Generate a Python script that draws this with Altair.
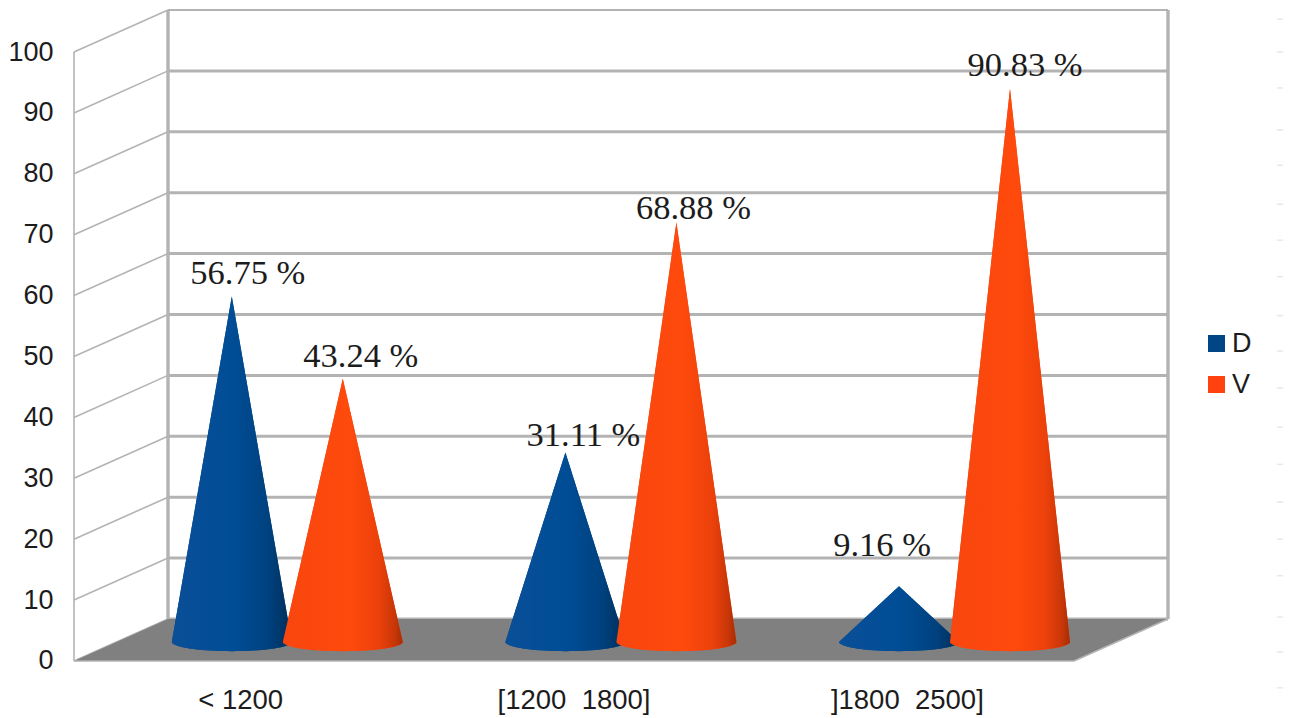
import math
import altair as alt
import pandas as pd

# Chart content
categories = ["< 1200", "[1200 \u00a01800]", "]1800 \u00a02500]"]
series_names = ["D", "V"]
d_values = [56.75, 31.11, 9.16]
v_values = [43.24, 68.88, 90.83]
axis_ticks = [0, 10, 20, 30, 40, 50, 60, 70, 80, 90, 100]
margin_marks = [105.4, 100, 94.1, 87.2, 81.4, 75, 69.1, 63.1, 56.7, 50.9, 44.8,
                38.4, 32.3, 26.1, 20, 14, 7.2, 1.5, -4.4]

# Projection of the box: floor width, oblique depth shift, cone geometry
FRONT_X = 74
BOX_W = 1000
DEPTH_X = 94
DEPTH_Y = 6.9
CONE_LIFT = 3.12
CONE_RADIUS = 60
CONE_RY = 1.5
GROUP_W = 333.6
CONE_CENTER_0 = 287.3
CONE_GAP = 55.5

x_scale = alt.Scale(domain=[70, 1290], nice=False, zero=False)
y_scale = alt.Scale(domain=[-9.36, 108.54], nice=False, zero=False)
colors = {"D": "#004586", "V": "#ff420e"}

# Every layer repeats the same axis definition so that the merged y axis stays on
y_axis = alt.Axis(values=axis_ticks, domain=False, ticks=False, grid=False,
                  labelFont="Liberation Sans", labelFontSize=27,
                  labelColor="#1c1c1c", labelPadding=17)


def xq(field):
    return alt.X(field, type="quantitative", scale=x_scale, axis=None, title=None)


def yq(field):
    return alt.Y(field, type="quantitative", scale=y_scale, title=None, axis=y_axis)


# Walls and floor
left_wall = pd.DataFrame({
    "x": [FRONT_X] * len(axis_ticks),
    "x2": [FRONT_X + DEPTH_X] * len(axis_ticks),
    "y": axis_ticks,
    "y2": [t + DEPTH_Y for t in axis_ticks],
})
back_lines = pd.DataFrame({
    "x": [FRONT_X + DEPTH_X] * len(axis_ticks),
    "x2": [FRONT_X + DEPTH_X + BOX_W] * len(axis_ticks),
    "y": [t + DEPTH_Y for t in axis_ticks],
    "w": [2 if t == 100 else 3 for t in axis_ticks],
})
floor = pd.DataFrame({
    "xl": [FRONT_X, FRONT_X + DEPTH_X],
    "xr": [FRONT_X + BOX_W, FRONT_X + DEPTH_X + BOX_W],
    "y": [0, DEPTH_Y],
})
verticals = pd.DataFrame({
    "x": [FRONT_X, FRONT_X + DEPTH_X, FRONT_X + DEPTH_X + BOX_W],
    "y": [0, DEPTH_Y, DEPTH_Y],
    "y2": [100, 100 + DEPTH_Y, 100 + DEPTH_Y],
    "w": [1.6, 3.4, 3.4],
})
floor_edges = pd.DataFrame({
    "x": [FRONT_X, FRONT_X + BOX_W],
    "x2": [FRONT_X + BOX_W, FRONT_X + BOX_W + DEPTH_X],
    "y": [0, 0],
    "y2": [0, DEPTH_Y],
})

# Cone silhouettes: apex, tangent corners, front half of the base ellipse
rows = []
for g, (d, v) in enumerate(zip(d_values, v_values)):
    for s, value in zip(series_names, (d, v)):
        cx = CONE_CENTER_0 + g * GROUP_W + (-CONE_GAP if s == "D" else CONE_GAP)
        key = f"{s}{g}"
        rows.append(dict(cone=key, series=s, xl=cx, xr=cx, y=value + CONE_LIFT))
        for k in range(0, 19):
            t = math.radians(k * 5)
            half = CONE_RADIUS * math.cos(t)
            rows.append(dict(cone=key, series=s, xl=cx - half, xr=cx + half,
                             y=CONE_LIFT - CONE_RY * math.sin(t)))
cones = pd.DataFrame(rows)

blue_fill = alt.Gradient(
    gradient="linear", x1=0, x2=1, y1=0, y2=0,
    stops=[alt.GradientStop(offset=0, color="#0a4f98"),
           alt.GradientStop(offset=0.5, color="#004d96"),
           alt.GradientStop(offset=0.8, color="#004280"),
           alt.GradientStop(offset=0.93, color="#003566"),
           alt.GradientStop(offset=1, color="#002c58")],
)
orange_fill = alt.Gradient(
    gradient="linear", x1=0, x2=1, y1=0, y2=0,
    stops=[alt.GradientStop(offset=0, color="#f8460f"),
           alt.GradientStop(offset=0.55, color="#ff4a0c"),
           alt.GradientStop(offset=0.8, color="#ec410b"),
           alt.GradientStop(offset=0.93, color="#c93708"),
           alt.GradientStop(offset=1, color="#a52d06")],
)

# Percentage labels sit near each apex, nudged clear of neighbouring cones
label_nudge = {"D0": (16, 12), "V0": (18, 12), "D1": (18, 7),
               "V1": (17, 4), "D2": (-17, 30), "V2": (15, 13)}
label_rows = []
for g, (d, v) in enumerate(zip(d_values, v_values)):
    for s, value in zip(series_names, (d, v)):
        key = f"{s}{g}"
        cx = CONE_CENTER_0 + g * GROUP_W + (-CONE_GAP if s == "D" else CONE_GAP)
        dx, dy = label_nudge[key]
        label_rows.append(dict(x=cx + dx, y=value + CONE_LIFT + dy / 6.09,
                               text=f"{value:.2f} %"))
value_labels = pd.DataFrame(label_rows)

category_labels = pd.DataFrame({
    "x": [FRONT_X + BOX_W / 6 + i * BOX_W / 3 for i in range(3)],
    "y": [-6.6] * 3,
    "text": categories,
})
margin_df = pd.DataFrame({"x": [1277] * len(margin_marks), "x2": [1283] * len(margin_marks),
                          "y": margin_marks})

GRID = "#b3b3b3"
layers = [
    alt.Chart(left_wall).mark_rule(color=GRID, strokeWidth=1.6).encode(
        x=xq("x"), x2="x2", y=yq("y"), y2="y2",
    ),
    alt.Chart(back_lines).mark_rule(color=GRID).encode(
        x=xq("x"), x2="x2", y=yq("y"),
        strokeWidth=alt.StrokeWidth("w:Q", scale=None),
    ),
    alt.Chart(verticals).mark_rule(color=GRID).encode(
        x=xq("x"), y=yq("y"), y2="y2",
        strokeWidth=alt.StrokeWidth("w:Q", scale=None),
    ),
    alt.Chart(floor).mark_area(color="#808080", orient="horizontal").encode(
        x=xq("xl"), x2="xr", y=yq("y"),
    ),
    alt.Chart(floor_edges).mark_rule(color=GRID, strokeWidth=1.5).encode(
        x=xq("x"), x2="x2", y=yq("y"), y2="y2",
    ),
    alt.Chart(margin_df).mark_rule(color="#e9e9e9", strokeWidth=1.5).encode(
        x=xq("x"), x2="x2", y=yq("y"),
    ),
    # Flat cones carry the colour scale that feeds the legend
    alt.Chart(cones).mark_area(orient="horizontal").encode(
        x=xq("xl"), x2="xr", y=yq("y"), detail="cone:N",
        color=alt.Color("series:N",
                        scale=alt.Scale(domain=series_names,
                                        range=[colors[s] for s in series_names]),
                        legend=alt.Legend(orient="none", legendX=1133, legendY=330, title=None,
                                          symbolType="square", symbolSize=290,
                                          symbolStrokeWidth=0, labelFont="Liberation Sans",
                                          labelFontSize=27, labelColor="#1c1c1c",
                                          labelOffset=2, rowPadding=13, padding=0)),
    ),
    alt.Chart(cones[cones.series == "D"]).mark_area(orient="horizontal", fill=blue_fill).encode(
        x=xq("xl"), x2="xr", y=yq("y"), detail="cone:N",
    ),
    alt.Chart(cones[cones.series == "V"]).mark_area(orient="horizontal", fill=orange_fill).encode(
        x=xq("xl"), x2="xr", y=yq("y"), detail="cone:N",
    ),
    alt.Chart(value_labels).mark_text(font="Liberation Serif", fontSize=34.5, color="#1c1c1c",
                                      align="center", baseline="alphabetic").encode(
        x=xq("x"), y=yq("y"), text="text:N",
    ),
    alt.Chart(category_labels).mark_text(font="Liberation Sans", fontSize=27.5, color="#1c1c1c",
                                         align="center", baseline="middle").encode(
        x=xq("x"), y=yq("y"), text="text:N",
    ),
]

chart = alt.layer(*layers).properties(
    width=1220, height=718,
    padding={"left": 70, "right": 0, "top": 0, "bottom": 0},
    autosize=alt.AutoSizeParams(type="none"),
    background="white",
).configure_view(stroke=None)

chart.save("out.html", embed_options={"renderer": "svg", "actions": False})
